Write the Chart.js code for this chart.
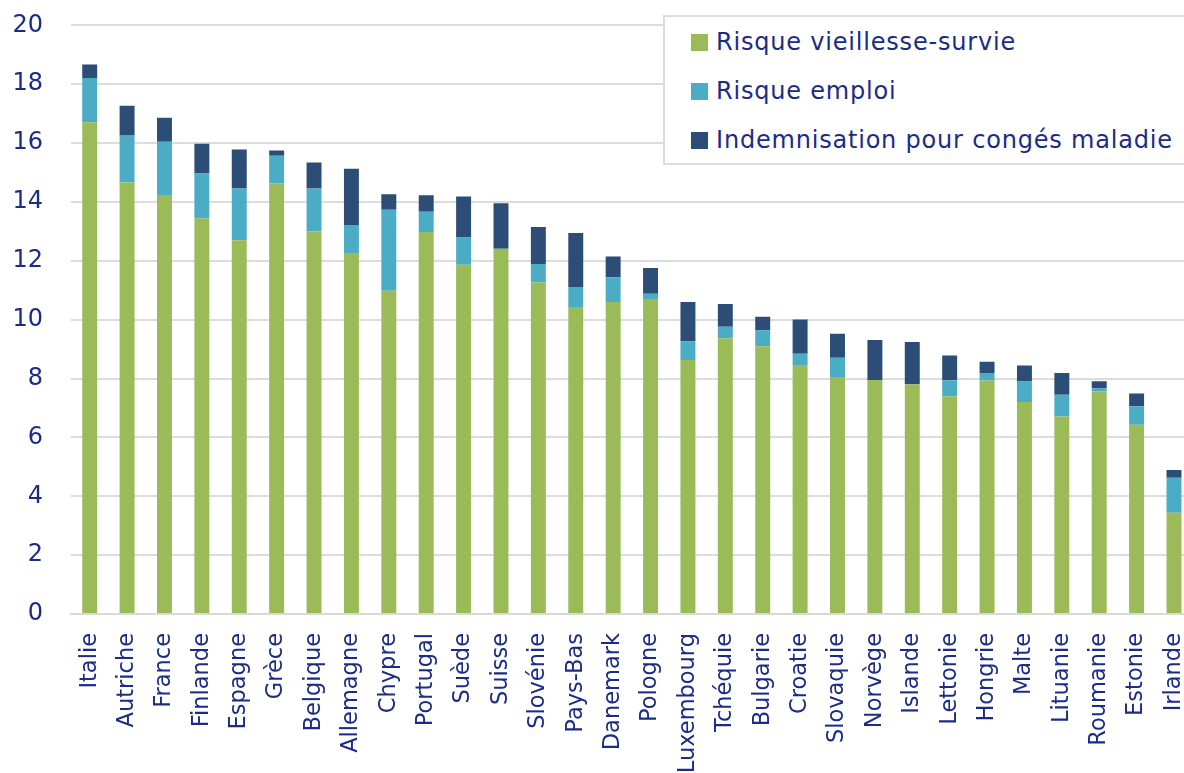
<!DOCTYPE html>
<html>
<head>
<meta charset="utf-8">
<script src="https://cdn.jsdelivr.net/npm/chart.js@4/dist/chart.umd.min.js"></script>
<style>
  html, body { margin: 0; padding: 0; background: #fff; overflow: hidden; width: 1184px; height: 773px; }
  #wrap { position: absolute; left: 0; top: -17px; width: 1220px; height: 817px; }
  #legend {
    position: absolute; left: 663px; top: 15px; width: 560px; height: 146px;
    border: 2px solid #dcdcdc; background: #fff;
    font-family: "DejaVu Sans", sans-serif; font-size: 24px; color: #1b2c86;
  }
  #legend .item { position: absolute; left: 26px; height: 30px; line-height: 30px; white-space: nowrap; letter-spacing: 0.8px; }
  #legend .box { display: inline-block; width: 17px; height: 17px; margin-right: 8px; vertical-align: -1px; }
</style>
</head>
<body>
<div id="wrap"><canvas id="chart"></canvas></div>
<div id="legend"></div>
<script>
const countries = ['Italie', 'Autriche', 'France', 'Finlande', 'Espagne', 'Grèce', 'Belgique', 'Allemagne', 'Chypre', 'Portugal',
  'Suède', 'Suisse', 'Slovénie', 'Pays-Bas', 'Danemark', 'Pologne', 'Luxembourg', 'Tchéquie', 'Bulgarie', 'Croatie',
  'Slovaquie', 'Norvège', 'Islande', 'Lettonie', 'Hongrie', 'Malte', 'Lituanie', 'Roumanie', 'Estonie', 'Irlande'];

const vieillesse = [16.71, 14.66, 14.24, 13.44, 12.70, 14.64, 13.00, 12.27, 10.98, 12.98,
  11.87, 12.41, 11.26, 10.43, 10.60, 10.70, 8.63, 9.37, 9.10, 8.46,
  8.05, 7.95, 7.81, 7.40, 7.93, 7.20, 6.71, 7.56, 6.43, 3.44];

const emploi = [1.50, 1.62, 1.81, 1.53, 1.76, 0.93, 1.46, 0.95, 2.76, 0.69,
  0.92, 0.00, 0.63, 0.68, 0.84, 0.18, 0.64, 0.39, 0.54, 0.38,
  0.66, 0.00, 0.00, 0.54, 0.26, 0.70, 0.74, 0.10, 0.63, 1.19];

const maladie = [0.46, 0.99, 0.81, 1.01, 1.32, 0.18, 0.88, 1.91, 0.52, 0.56,
  1.40, 1.55, 1.26, 1.84, 0.71, 0.88, 1.33, 0.77, 0.46, 1.17,
  0.81, 1.36, 1.43, 0.84, 0.38, 0.54, 0.74, 0.25, 0.43, 0.26];

const textColor = '#1b2c86';

const ctx = document.getElementById('chart').getContext('2d');
const chart = new Chart(ctx, {
  type: 'bar',
  data: {
    labels: countries,
    datasets: [
      { label: 'Risque vieillesse-survie', data: vieillesse, backgroundColor: '#9bbb59' },
      { label: 'Risque emploi', data: emploi, backgroundColor: '#4bacc6' },
      { label: 'Indemnisation pour congés maladie', data: maladie, backgroundColor: '#2c4d75' },
    ],
  },
  options: {
    responsive: true,
    maintainAspectRatio: false,
    animation: false,
    layout: { padding: { top: 8, right: 0, bottom: 0, left: 0 } },
    datasets: {
      bar: { categoryPercentage: 1, barPercentage: 0.4, borderWidth: 0 },
    },
    plugins: {
      legend: { display: false },
      tooltip: { enabled: false },
    },
    scales: {
      x: {
        stacked: true,
        grid: { display: false, drawTicks: false },
        border: { display: true, color: '#d9d9d9', width: 2 },
        ticks: {
          minRotation: 90,
          maxRotation: 90,
          autoSkip: false,
          padding: 19,
          color: textColor,
          font: { family: 'DejaVu Sans', size: 22.5 },
        },
        afterFit: (scale) => { scale.height = 186; },
      },
      y: {
        stacked: true,
        min: 0,
        max: 20,
        grid: { color: '#dcdcdc', lineWidth: 2, drawTicks: false },
        border: { display: false },
        ticks: {
          stepSize: 2,
          padding: 28,
          color: textColor,
          font: { family: 'DejaVu Sans', size: 24 },
        },
        afterFit: (scale) => { scale.width = 71; },
      },
    },
  },
});

// legend drawn as an overlay box, built from the chart's datasets
const legendEl = document.getElementById('legend');
const rowTops = [10, 59, 108];
chart.data.datasets.forEach((ds, i) => {
  const item = document.createElement('div');
  item.className = 'item';
  item.style.top = rowTops[i] + 'px';
  item.innerHTML = '<span class="box" style="background:' + ds.backgroundColor + '"></span>' + ds.label;
  legendEl.appendChild(item);
});
</script>
</body>
</html>
